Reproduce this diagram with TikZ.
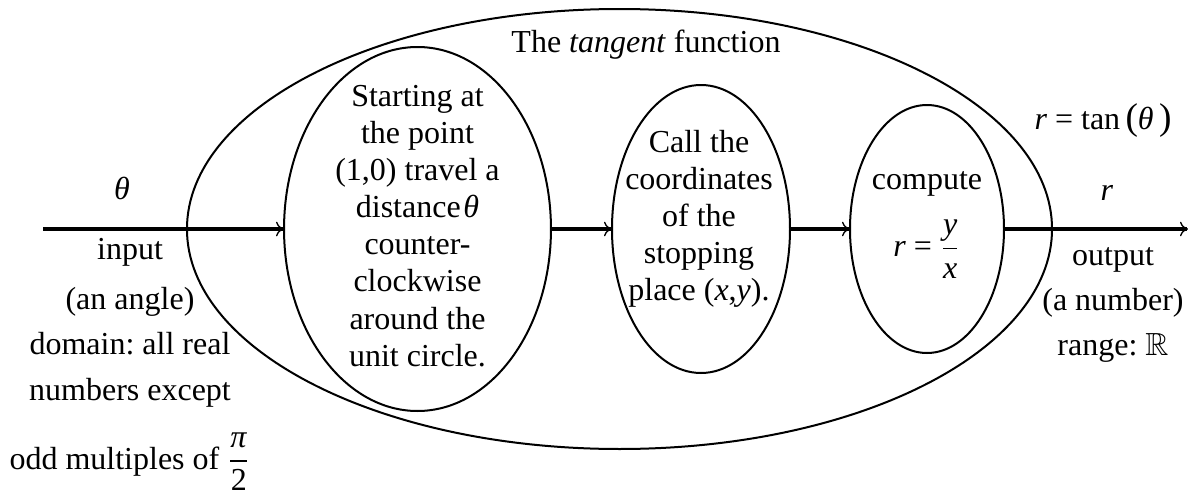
\documentclass[tikz,border=0pt]{standalone}
\usepackage{amssymb}
\usepackage{fontspec}
\setmainfont{Liberation Serif}
\frenchspacing
\usetikzlibrary{arrows.meta,shapes.geometric}
\begin{document}
\begin{tikzpicture}[x=0.375pt,y=-0.375pt,
  every node/.style={font=\fontsize{12}{13.9}\selectfont, inner sep=0pt, outer sep=0pt},
  oval/.style={draw, ellipse, line width=0.75pt, inner sep=0pt, outer sep=0pt},
  flow/.style={line width=1.3pt, -{To[length=3pt,width=5.5pt,line width=0.5pt]}},
  txt/.style={align=center, text height=8.4pt, text depth=2.6pt},
  lines/.style={align=center}]
\fill[white] (0,0) rectangle (1188,497);
\useasboundingbox (0,0) rectangle (1188,497);

% ovals
\node[oval, minimum width=324.4pt, minimum height=165pt] (fn) at (619.5,229) {};
\node[oval, minimum width=100.1pt, minimum height=136.5pt] (e1) at (417.5,229) {};
\node[oval, minimum width=66.75pt, minimum height=108pt] (e2) at (701,229) {};
\node[oval, minimum width=57.75pt, minimum height=93pt] (e3) at (927,229) {};

% connectors
\coordinate (src) at (43,229);
\coordinate (dst) at (1188,229);
\draw[flow] (src) -- (e1.west);
\draw[flow] (e1.east) -- (e2.west);
\draw[flow] (e2.east) -- (e3.west);
\draw[flow] (e3.east) -- (dst);

% texts inside
\node[txt] (title) at (646,45) {The \textit{tangent} function};
\node[lines] (t1) at (417.5,226) {Starting at\\the point\\(1,0) travel a\\distance\kern1pt\textit{θ}\\counter-\\clockwise\\around the\\unit circle.};
\node[lines] (t2) at (699,219) {Call the\\coordinates\\of the\\stopping\\place (\textit{x},\textit{y}).};
\node[txt] (t3) at (927,182) {compute};
\node (t4) at (927,249) {\textit{r} = $\displaystyle\frac{\mbox{\textit{y}}}{\mbox{\textit{x}}}$};

% left column
\node[txt] (lth) at (122,192) {\textit{θ}};
\node[txt] (l1) at (130,252) {input};
\node[txt] (l2) at (130,302) {(an angle)};
\node[txt] (l3) at (130,347) {domain: all real};
\node[txt] (l4) at (130,393) {numbers except};
\node[anchor=base] (l5) at (130,469) {odd multiples of $\displaystyle\frac{\mbox{\textit{π}}}{\mbox{2}}$};

% right column
\node[txt] (rt) at (1103,122) {\textit{r} = tan\,{\fontsize{14}{14}\selectfont(}\textit{θ}\,{\fontsize{14}{14}\selectfont)}};
\node[txt] (rr) at (1107,193) {\textit{r}};
\node[txt] (r1) at (1113,258) {output};
\node[txt] (r2) at (1113,303) {(a number)};
\node[txt] (r3) at (1113,348) {range: $\mathbb{R}$};
\end{tikzpicture}
\end{document}
